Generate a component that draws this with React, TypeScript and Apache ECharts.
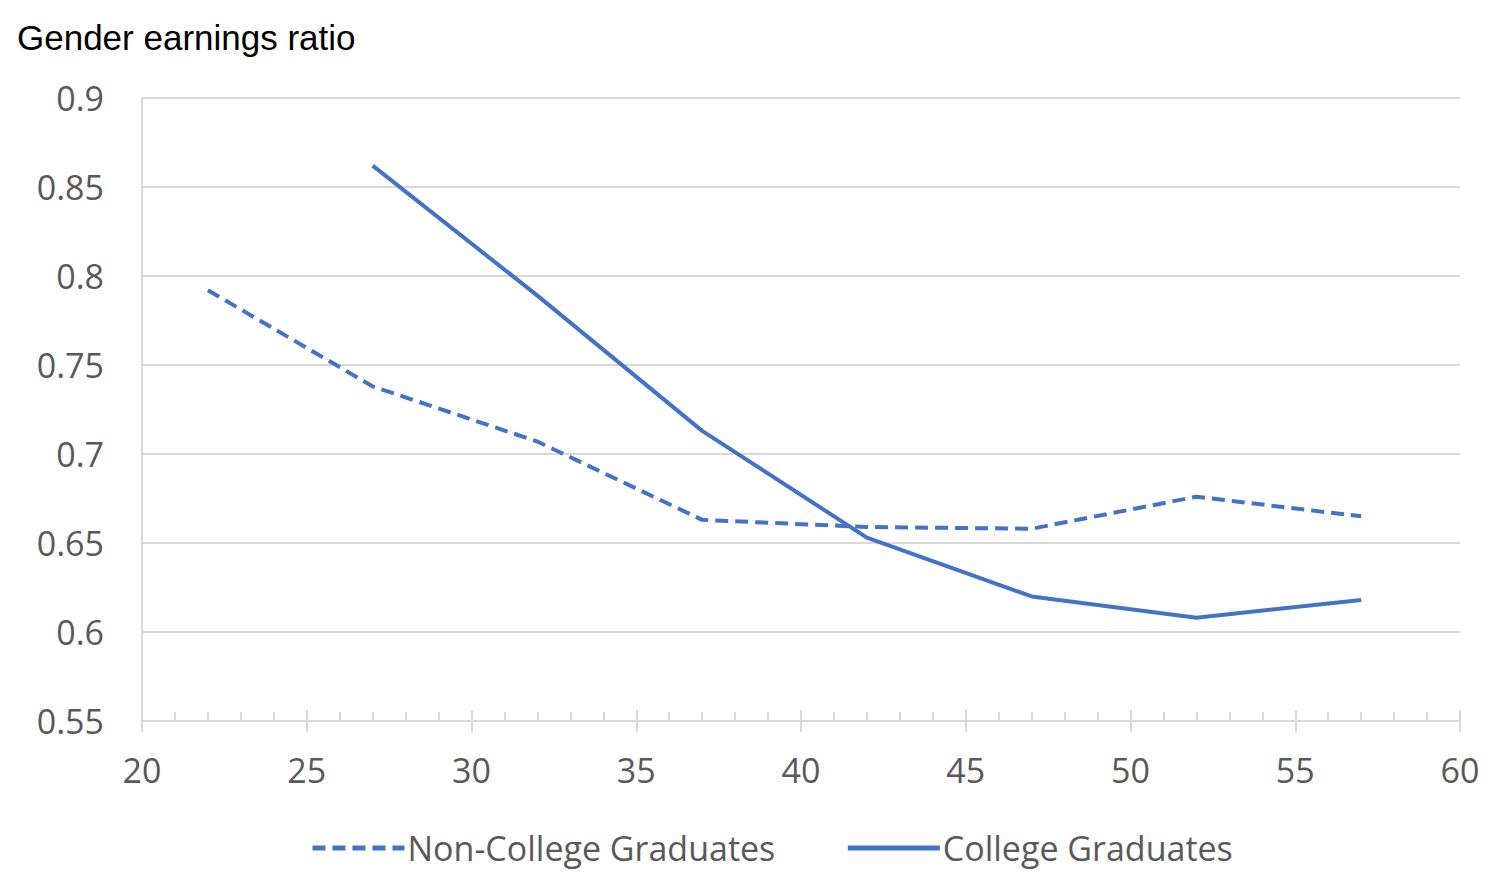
import React, { useEffect, useRef } from "react";
import * as echarts from "echarts";

const ages = [22, 27, 32, 37, 42, 47, 52, 57];
const nonCollege = [0.792, 0.738, 0.707, 0.663, 0.659, 0.658, 0.676, 0.665];
const collegeAges = [27, 32, 37, 42, 47, 52, 57];
const college = [0.862, 0.789, 0.713, 0.653, 0.62, 0.608, 0.618];
const yTitle = "Gender earnings ratio";
const seriesNames = ["Non-College Graduates", "College Graduates"];

export default function App() {
  const ref = useRef<HTMLDivElement>(null);
  useEffect(() => {
    if (!ref.current) return;
    const chart = echarts.init(ref.current, null, { renderer: "svg" });
    const color = "#4472C4";
    const gridColor = "#d9d9d9";
    const font = "'Open Sans', sans-serif";
    chart.setOption({
      animation: false,
      backgroundColor: "#ffffff",
      grid: { left: 142, right: 32, top: 98, bottom: 165 },
      graphic: [
        {
          type: "text",
          left: 17,
          top: 20,
          style: {
            text: yTitle,
            font: "35px 'Liberation Sans', Arial, sans-serif",
            fill: "#000000",
          },
        },
      ],
      legend: {
        bottom: 16,
        left: 305,
        itemWidth: 92,
        itemHeight: 10,
        itemGap: 70,
        itemStyle: { opacity: 0 },
        lineStyle: { width: 5 },
        textStyle: { fontFamily: font, fontSize: 34, color: "#595959", padding: [0, 0, 0, -2] },
        data: seriesNames,
      },
      xAxis: [
        {
          type: "value",
          min: 20,
          max: 60,
          interval: 5,
          position: "bottom",
          axisLine: { show: true, lineStyle: { color: gridColor, width: 2 } },
          axisTick: { show: true, length: 11, lineStyle: { color: gridColor, width: 2 } },
          axisLabel: { fontFamily: font, fontSize: 34, color: "#595959", margin: 32 },
          splitLine: { show: false },
        },
        {
          type: "value",
          min: 20,
          max: 60,
          interval: 5,
          position: "bottom",
          axisLine: { show: false },
          axisTick: { show: true, inside: true, length: 11, lineStyle: { color: gridColor, width: 2 } },
          minorTick: { show: true, splitNumber: 5, length: 9, lineStyle: { color: gridColor, width: 2 } },
          axisLabel: { show: false },
          splitLine: { show: false },
        },
      ],
      yAxis: {
        type: "value",
        min: 0.55,
        max: 0.9,
        interval: 0.05,
        axisLine: { show: true, lineStyle: { color: gridColor, width: 2 } },
        axisTick: { show: false },
        axisLabel: {
          fontFamily: font,
          fontSize: 34,
          color: "#595959",
          margin: 38,
          formatter: (v: number) => String(parseFloat(v.toFixed(2))),
        },
        splitLine: { show: true, lineStyle: { color: gridColor, width: 2 } },
      },
      series: [
        {
          name: seriesNames[0],
          type: "line",
          xAxisIndex: 0,
          data: ages.map((a, i) => [a, nonCollege[i]]),
          symbol: "none",
          lineStyle: { color, width: 4, type: [13, 7] },
          itemStyle: { color },
        },
        {
          name: seriesNames[1],
          type: "line",
          xAxisIndex: 0,
          data: collegeAges.map((a, i) => [a, college[i]]),
          symbol: "none",
          lineStyle: { color, width: 4 },
          itemStyle: { color },
        },
      ],
    });
    return () => chart.dispose();
  }, []);
  return <div ref={ref} style={{ width: 1492, height: 886, position: "absolute", left: 0, top: 0 }} />;
}
